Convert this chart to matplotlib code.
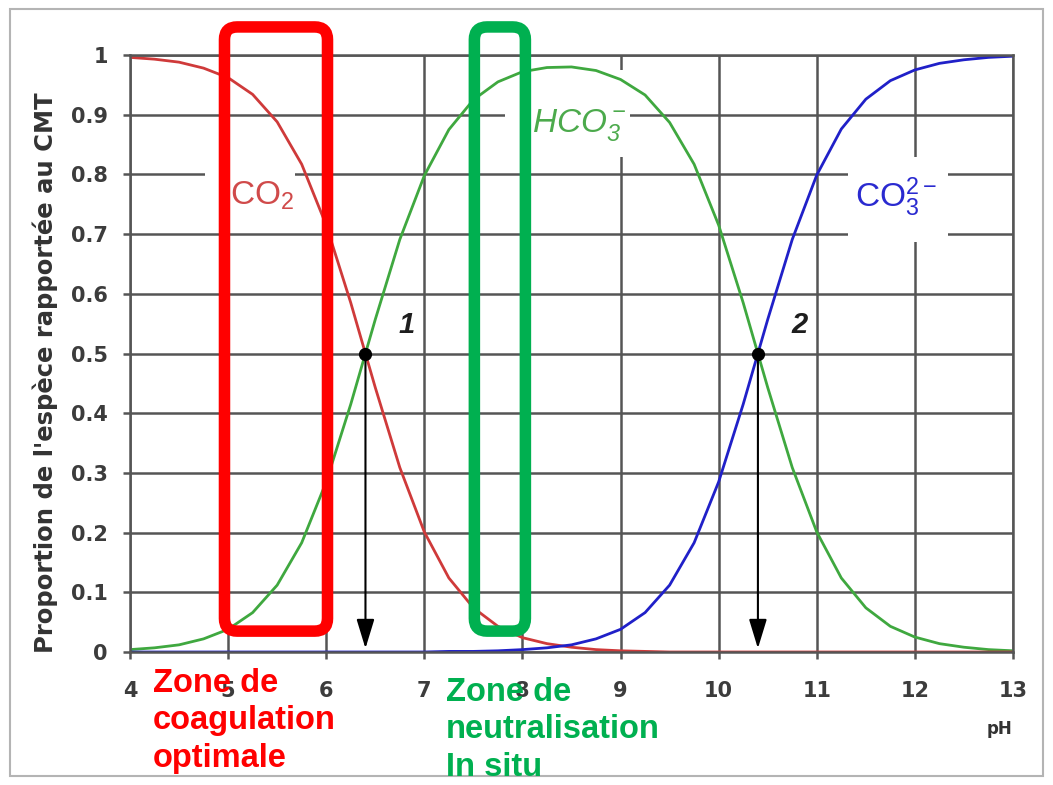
import matplotlib
matplotlib.use("Agg")
import matplotlib.pyplot as plt
from matplotlib.patches import Rectangle, FancyBboxPatch

plt.rcParams["mathtext.default"] = "regular"

# pH grid and species fractions (share of total inorganic carbon)
ph = [4.0, 4.25, 4.5, 4.75, 5.0, 5.25, 5.5, 5.75, 6.0, 6.25, 6.5, 6.75,
      7.0, 7.25, 7.5, 7.75, 8.0, 8.25, 8.5, 8.75, 9.0, 9.25, 9.5, 9.75,
      10.0, 10.25, 10.5, 10.75, 11.0, 11.25, 11.5, 11.75, 12.0, 12.25,
      12.5, 12.75, 13.0]
co2 = [0.996, 0.993, 0.988, 0.978, 0.962, 0.934, 0.888, 0.817, 0.715,
       0.585, 0.443, 0.309, 0.201, 0.124, 0.074, 0.043, 0.024, 0.014,
       0.008, 0.004, 0.002, 0.001, 0.0, 0.0, 0.0, 0.0, 0.0, 0.0, 0.0,
       0.0, 0.0, 0.0, 0.0, 0.0, 0.0, 0.0, 0.0]
hco3 = [0.004, 0.007, 0.012, 0.022, 0.038, 0.066, 0.112, 0.183, 0.285,
        0.415, 0.557, 0.691, 0.798, 0.875, 0.925, 0.955, 0.972, 0.979,
        0.980, 0.974, 0.959, 0.933, 0.887, 0.817, 0.715, 0.585, 0.443,
        0.309, 0.201, 0.124, 0.074, 0.043, 0.025, 0.014, 0.008, 0.004,
        0.002]
co3 = [0.0, 0.0, 0.0, 0.0, 0.0, 0.0, 0.0, 0.0, 0.0, 0.0, 0.0, 0.0,
       0.0, 0.001, 0.001, 0.002, 0.004, 0.007, 0.012, 0.022, 0.038,
       0.066, 0.112, 0.183, 0.285, 0.415, 0.557, 0.691, 0.799, 0.876,
       0.926, 0.957, 0.975, 0.986, 0.992, 0.996, 0.998]

# equivalence points (pKa) marked on the chart
pka_x = [6.4, 10.4]
pka_y = [0.5, 0.5]
pka_labels = ["1", "2"]

x_ticks = [4, 5, 6, 7, 8, 9, 10, 11, 12, 13]
y_ticks = [0, 0.1, 0.2, 0.3, 0.4, 0.5, 0.6, 0.7, 0.8, 0.9, 1]
y_ticklabels = ["0", "0.1", "0.2", "0.3", "0.4", "0.5", "0.6", "0.7",
                "0.8", "0.9", "1"]

W, H = 1053, 785
fig = plt.figure(figsize=(W / 100, H / 100), dpi=100)
fig.patch.set_facecolor("white")
ax = fig.add_axes([130 / W, 133 / H, 883 / W, 597 / H])
ax.set_xlim(4, 13)
ax.set_ylim(0, 1)

grid_c = "#555555"
ax.set_axisbelow(True)
ax.grid(True, color=grid_c, lw=1.8)
for s in ax.spines.values():
    s.set_color(grid_c)
    s.set_linewidth(1.8)
ax.set_xticks(x_ticks)
ax.set_xticklabels([str(v) for v in x_ticks])
ax.set_yticks(y_ticks)
ax.set_yticklabels(y_ticklabels)
ax.tick_params(axis="both", direction="out", length=5, width=1.8,
               color=grid_c, labelcolor="#3c3c3c", labelsize=15)
ax.tick_params(axis="x", pad=16)
ax.tick_params(axis="y", pad=11)
for lab in ax.get_xticklabels() + ax.get_yticklabels():
    lab.set_fontweight("bold")
    lab.set_family("DejaVu Sans")

# white label backgrounds that break the grid behind species names
for (x0, x1, y0, y1) in [(4.765, 5.68, 0.72, 0.88),
                         (7.823, 9.097, 0.829, 0.975),
                         (11.32, 12.34, 0.687, 0.829)]:
    ax.add_patch(Rectangle((x0, y0), x1 - x0, y1 - y0, facecolor="white",
                           edgecolor="none", zorder=1))

ax.plot(ph, hco3, color="#3fa83f", lw=2.0, zorder=2)
ax.plot(ph, co2, color="#cf3a3a", lw=2.0, zorder=2.1)
ax.plot(ph, co3, color="#2020c8", lw=2.0, zorder=2.2)

narrow = ["Liberation Sans Narrow", "Liberation Sans", "DejaVu Sans"]
ax.text(5.02, 0.749, r"CO$_2$", color="#d04a4a", fontsize=24,
        family=narrow, ha="left", va="baseline", zorder=3)
ax.text(8.10, 0.871, r"HCO$_3^-$", color="#4caa4c", fontsize=24,
        family=narrow, style="italic", ha="left", va="baseline", zorder=3)
ax.text(11.39, 0.745, r"CO$_3^{2-}$", color="#2a2ad0", fontsize=24,
        family=narrow, ha="left", va="baseline", zorder=3)

# arrows from the crossing points down to the pH axis
for px, py, lab in zip(pka_x, pka_y, pka_labels):
    ax.annotate("", xy=(px, 0.006), xytext=(px, py),
                arrowprops=dict(arrowstyle="-|>,head_length=1.8,head_width=0.55",
                                color="black", lw=1.5, shrinkA=0, shrinkB=0,
                                mutation_scale=10),
                zorder=4)
    ax.plot([px], [py], "o", color="black", ms=8.5, zorder=4.5)
    ax.text(px + 0.42, py + 0.048, lab, fontsize=21, fontweight="bold",
            style="italic", family=["Liberation Sans", "DejaVu Sans"],
            color="#1e1e1e", ha="center", va="center", zorder=4)

# highlighted pH zones (rounded frames)
p0 = ax.transData.transform((0, 0))
p1 = ax.transData.transform((1, 1))
aspect = (p1[0] - p0[0]) / (p1[1] - p0[1])
for (x0, x1, color) in [(4.963, 6.013, "#ff0000"), (7.51, 8.03, "#00b050")]:
    y0, y1 = 0.035, 1.047
    ax.add_patch(FancyBboxPatch((x0, y0), x1 - x0, y1 - y0,
                                boxstyle="round,pad=0,rounding_size=0.13",
                                mutation_aspect=aspect, fill=False,
                                edgecolor=color, lw=8.3, clip_on=False,
                                zorder=6))

fig.text(45 / W, 1 - 373 / H, "Proportion de l'espèce rapportée au CMT",
         rotation=90, ha="center", va="center", fontsize=17.5,
         fontweight="bold", family="DejaVu Sans", color="#333333")
fig.text(1012 / W, 1 - 729 / H, "pH", ha="right", va="center", fontsize=12,
         fontweight="bold", family="DejaVu Sans", color="#333333")

zone_font = ["Liberation Sans", "DejaVu Sans"]
fig.text(153 / W, 1 - 668 / H, "Zone de\ncoagulation\noptimale",
         color="#ff0000", fontsize=23.5, fontweight="bold", family=zone_font,
         ha="left", va="top", linespacing=1.27, zorder=5)
fig.text(446 / W, 1 - 677 / H, "Zone de\nneutralisation\nIn situ",
         color="#00b050", fontsize=23.5, fontweight="bold", family=zone_font,
         ha="left", va="top", linespacing=1.27, zorder=5)

fig.patches.append(Rectangle((10 / W, 9 / H), 1033 / W, 767 / H,
                             transform=fig.transFigure, fill=False,
                             edgecolor="#b4b4b4", lw=1.5))

fig.savefig("out.png", dpi=100)
